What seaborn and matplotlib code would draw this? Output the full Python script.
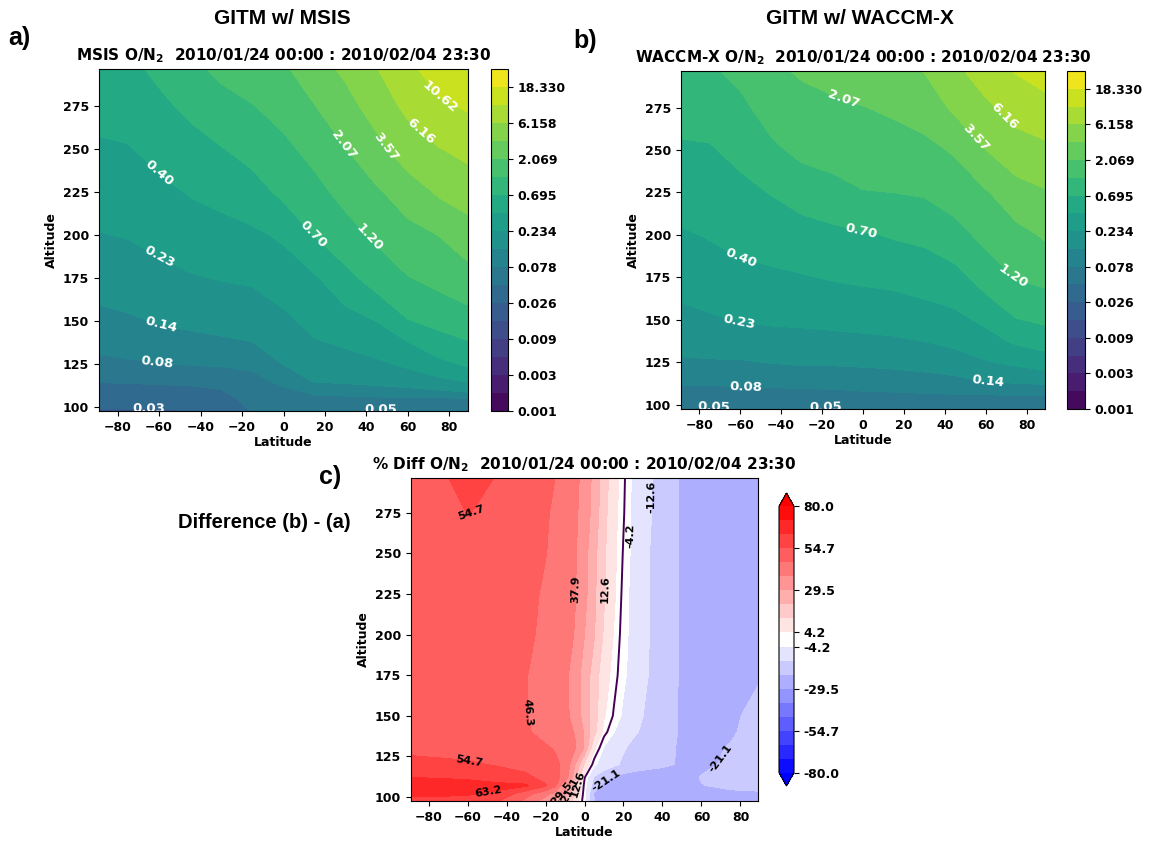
import numpy as np
import matplotlib
matplotlib.use("Agg")
import matplotlib.pyplot as plt
from matplotlib.colors import LogNorm
from matplotlib.ticker import NullLocator
import seaborn as sns

# ---------------------------------------------------------------------------
# Data: zonal-mean O/N2 (log10) for the two GITM runs, on a lat x alt grid
# ---------------------------------------------------------------------------
latitude = [-89, -75, -60, -45, -30, -15, 0, 15, 30, 45, 60, 75, 89]
altitude = [97.5, 105, 115, 125, 137.5, 150, 175, 200, 225, 250, 275, 296.5]

# rows: altitude (bottom -> top), columns: latitude (south -> north)
log_on2_msis = [
    [-1.60, -1.60, -1.60, -1.58, -1.53, -1.33, -1.31, -1.32, -1.355, -1.37, -1.35, -1.27, -1.20],
    [-1.49, -1.49, -1.49, -1.47, -1.44, -1.26, -1.21, -1.18, -1.16, -1.14, -1.12, -1.11, -1.11],
    [-1.33, -1.32, -1.31, -1.30, -1.26, -1.17, -1.06, -0.85, -0.83, -0.80, -0.76, -0.70, -0.61],
    [-1.17, -1.14, -1.11, -1.09, -1.08, -1.06, -0.86, -0.76, -0.72, -0.67, -0.59, -0.46, -0.36],
    [-1.03, -1.01, -0.97, -0.93, -0.90, -0.87, -0.77, -0.65, -0.60, -0.53, -0.40, -0.26, -0.17],
    [-0.93, -0.90, -0.85, -0.82, -0.80, -0.78, -0.68, -0.57, -0.51, -0.39, -0.17, -0.09, -0.03],
    [-0.78, -0.75, -0.70, -0.65, -0.62, -0.60, -0.53, -0.43, -0.23, -0.07, 0.07, 0.14, 0.22],
    [-0.64, -0.62, -0.57, -0.51, -0.48, -0.44, -0.36, -0.15, -0.02, 0.12, 0.23, 0.32, 0.44],
    [-0.53, -0.51, -0.45, -0.38, -0.33, -0.26, -0.11, 0.00, 0.15, 0.28, 0.43, 0.58, 0.65],
    [-0.43, -0.41, -0.33, -0.25, -0.17, -0.08, 0.02, 0.15, 0.31, 0.48, 0.66, 0.78, 0.85],
    [-0.32, -0.30, -0.21, -0.11, -0.01, 0.07, 0.16, 0.31, 0.46, 0.65, 0.84, 0.99, 1.05],
    [-0.24, -0.22, -0.11, 0.02, 0.13, 0.20, 0.28, 0.43, 0.60, 0.78, 0.97, 1.12, 1.19],
]

log_on2_waccmx = [
    [-1.34, -1.37, -1.33, -1.32, -1.34, -1.37, -1.33, -1.31, -1.28, -1.26, -1.24, -1.21, -1.20],
    [-1.21, -1.22, -1.21, -1.20, -1.20, -1.20, -1.17, -1.16, -1.15, -1.14, -1.14, -1.13, -1.13],
    [-1.05, -1.05, -1.04, -1.03, -1.01, -1.00, -0.98, -0.97, -0.94, -0.91, -0.84, -0.81, -0.79],
    [-0.90, -0.89, -0.89, -0.86, -0.84, -0.84, -0.83, -0.81, -0.79, -0.74, -0.65, -0.59, -0.53],
    [-0.79, -0.77, -0.75, -0.72, -0.71, -0.69, -0.68, -0.66, -0.63, -0.58, -0.49, -0.36, -0.30],
    [-0.70, -0.66, -0.62, -0.60, -0.59, -0.58, -0.56, -0.55, -0.51, -0.46, -0.35, -0.17, -0.12],
    [-0.55, -0.51, -0.46, -0.44, -0.41, -0.38, -0.36, -0.34, -0.30, -0.25, -0.07, 0.09, 0.13],
    [-0.42, -0.38, -0.33, -0.29, -0.26, -0.23, -0.18, -0.14, -0.11, -0.01, 0.14, 0.24, 0.34],
    [-0.30, -0.28, -0.22, -0.15, -0.07, 0.00, 0.07, 0.08, 0.10, 0.18, 0.29, 0.45, 0.53],
    [-0.19, -0.18, -0.10, 0.03, 0.13, 0.16, 0.19, 0.21, 0.25, 0.34, 0.55, 0.68, 0.73],
    [-0.08, -0.06, 0.02, 0.17, 0.24, 0.28, 0.31, 0.35, 0.41, 0.59, 0.74, 0.87, 0.94],
    [0.00, 0.04, 0.14, 0.27, 0.34, 0.38, 0.42, 0.50, 0.56, 0.73, 0.90, 1.04, 1.12],
]

# Percent difference (WACCM-X vs MSIS) on its own grid
latitude_diff = [-89, -75, -60, -45, -30, -20, -15, -10, -5, 0, 5, 10, 15, 20, 25, 30, 40, 50, 60, 75, 89]
altitude_diff = [97.5, 102, 107, 112, 120, 130, 140, 150, 175, 200, 225, 250, 275, 296.5]
pct_diff = [
    [61.5, 61.0, 60.0, 56.0, 44.0, 34.0, 28.0, 20.0, 9.0, -3.0, -21.0, -25.0, -26.0, -26.5, -27.0, -27.0, -27.0, -26.0, -24.5, -23.0, -22.5],
    [64.5, 64.5, 64.0, 62.0, 49.7, 41.0, 35.0, 27.0, 14.0, -2.6, -22.0, -25.0, -26.0, -26.5, -27.0, -27.0, -27.0, -26.0, -24.0, -22.5, -22.0],
    [66.0, 66.0, 65.5, 65.0, 64.5, 56.0, 48.0, 31.5, 17.0, -1.5, -17.0, -23.0, -25.0, -26.0, -26.5, -27.0, -27.0, -26.0, -21.3, -19.5, -19.0],
    [63.2, 62.8, 62.3, 60.0, 57.0, 51.5, 48.5, 43.5, 25.0, 0.5, -13.5, -18.3, -22.0, -24.0, -25.0, -25.5, -26.0, -25.5, -20.5, -19.0, -17.5],
    [58.0, 57.0, 56.0, 54.0, 51.0, 48.5, 47.5, 45.0, 30.0, 11.5, -3.0, -8.0, -11.0, -14.0, -16.0, -17.5, -19.5, -22.0, -23.0, -19.5, -16.0],
    [52.0, 51.5, 51.0, 50.0, 48.5, 47.0, 45.9, 43.0, 39.0, 28.4, 5.5, -5.0, -8.5, -12.0, -14.5, -16.0, -19.5, -21.8, -23.0, -20.5, -17.0],
    [51.0, 50.5, 50.0, 49.0, 47.0, 44.5, 43.0, 40.5, 37.5, 28.5, 15.0, 2.0, -4.0, -8.0, -11.5, -13.7, -18.5, -21.8, -23.5, -22.0, -18.0],
    [50.5, 50.0, 49.5, 49.0, 46.5, 44.0, 42.5, 40.0, 35.0, 26.0, 16.5, 5.0, -0.5, -5.5, -9.5, -12.6, -18.0, -22.0, -23.0, -22.0, -19.5],
    [50.5, 50.0, 49.5, 49.0, 46.5, 44.5, 43.0, 40.0, 34.0, 26.0, 17.0, 7.5, 2.0, -3.0, -7.0, -11.0, -17.0, -22.0, -23.5, -23.5, -21.6],
    [50.5, 50.5, 50.0, 49.5, 47.5, 45.0, 44.0, 41.0, 37.5, 29.5, 21.5, 11.5, 3.8, -2.2, -6.5, -10.5, -17.0, -22.0, -23.5, -24.0, -24.5],
    [51.0, 51.0, 51.0, 50.5, 48.0, 45.5, 44.5, 42.5, 38.5, 32.0, 22.5, 13.5, 5.5, -1.5, -6.5, -10.5, -17.0, -22.0, -23.5, -24.5, -25.0],
    [51.0, 51.5, 52.0, 51.5, 49.0, 46.5, 45.0, 43.0, 39.0, 32.5, 23.5, 14.0, 6.0, -0.5, -6.0, -10.5, -16.8, -22.0, -24.0, -25.0, -25.0],
    [51.0, 52.0, 54.9, 53.5, 49.5, 47.0, 45.3, 43.0, 39.5, 34.5, 26.0, 15.5, 6.5, 0.5, -6.0, -9.5, -16.5, -22.0, -24.0, -25.0, -25.0],
    [51.0, 53.5, 57.0, 54.5, 51.0, 48.0, 46.3, 44.0, 40.0, 35.4, 26.7, 16.8, 7.9, 1.0, -5.5, -9.3, -16.4, -22.0, -24.0, -25.0, -25.0],
]

period = "2010/01/24 00:00 : 2010/02/04 23:30"

# Where the inline contour labels sit: {contour level index: [(lat, alt), ...]}
msis_label_spots = {
    6: [(-65, 98.8)], 7: [(47, 97.9)], 8: [(-61, 125.5)], 9: [(-59, 147)],
    10: [(-60, 186.5)], 11: [(-60, 236)], 12: [(14, 200)], 13: [(41, 198)],
    14: [(29, 252)], 15: [(49, 251)], 16: [(65, 259)], 17: [(75, 280)],
}
waccmx_label_spots = {
    7: [(-73, 97.8), (-18, 97.8)], 8: [(-57, 111)], 9: [(61, 113)],
    10: [(-61, 148)], 11: [(-60, 186)], 12: [(-1, 201.5)], 13: [(73, 175)],
    14: [(-9, 281)], 15: [(55, 257)], 16: [(69, 270)],
}
diff_label_spots = {
    17: [(-49, 101.7)], 16: [(-57, 273), (-59, 123)], 15: [(-29, 152)],
    14: [(-4, 228)], 13: [(-10.9, 101.7)], 12: [(-6.9, 103.7)],
    11: [(10.4, 228), (-3, 108)], 9: [(23, 261)], 8: [(34.3, 285)],
    7: [(11.3, 110), (69.4, 124)],
}

# ---------------------------------------------------------------------------
# Style
# ---------------------------------------------------------------------------
sns.set_theme(style="ticks")
plt.rcParams.update({
    "font.family": ["DejaVu Sans"],
    "font.weight": "bold",
    "axes.labelweight": "bold",
    "axes.titleweight": "bold",
    "axes.edgecolor": "black",
    "axes.linewidth": 0.8,
    "axes.labelcolor": "black",
    "text.color": "black",
    "xtick.color": "black",
    "ytick.color": "black",
    "xtick.labelsize": 9,
    "ytick.labelsize": 9,
    "axes.labelsize": 9,
    "axes.titlesize": 11,
    "xtick.major.size": 3.5,
    "ytick.major.size": 3.5,
    "xtick.major.width": 0.8,
    "ytick.major.width": 0.8,
    "axes.titlepad": 6,
})

W, H = 1151, 842
fig = plt.figure(figsize=(W / 100, H / 100), dpi=100)


def box(left, top, right, bottom):
    """Axes rectangle from pixel edges (origin top-left)."""
    return [left / W, 1 - bottom / H, (right - left) / W, (bottom - top) / H]


def place_labels(ax, x, y, z, levels, spots, fmt, color, size):
    """Inline labels on invisible single-level contours, near the given spots."""
    for idx, points in spots.items():
        cs = ax.contour(x, y, z, levels=[levels[idx]], colors=[color], linewidths=0)
        if len(cs.get_paths()[0].vertices) == 0:
            continue
        ax.clabel(cs, manual=points, fmt=fmt, colors=[color], fontsize=size, inline=True)


lat = np.array(latitude, dtype=float)
alt = np.array(altitude, dtype=float)
on2_levels = np.logspace(-3, 1.5, 20)
viridis = sns.color_palette("viridis", as_cmap=True)


def on2_panel(ax_rect, cax_rect, log_field, name, spots):
    ax = fig.add_axes(box(*ax_rect))
    cax = fig.add_axes(box(*cax_rect))
    field = 10.0 ** np.array(log_field)
    norm = LogNorm(vmin=on2_levels[0], vmax=on2_levels[-1])
    cf = ax.contourf(lat, alt, field, levels=on2_levels, norm=norm, cmap=viridis)
    place_labels(ax, lat, alt, field, on2_levels, spots, "%.2f", "white", 9.5)
    ax.set_xticks(range(-80, 81, 20))
    ax.set_yticks(range(100, 276, 25))
    ax.set_xlabel("Latitude", labelpad=2)
    ax.set_ylabel("Altitude")
    ax.set_title(name + r" O/N$_\mathbf{2}$  " + period)
    cb = fig.colorbar(cf, cax=cax)
    ticks = on2_levels[::2]
    cb.set_ticks(ticks)
    cb.set_ticklabels(["%.3f" % t for t in ticks])
    cb.ax.yaxis.set_minor_locator(NullLocator())
    cb.ax.tick_params(labelsize=9)
    return ax


on2_panel((99, 69, 468, 411), (491, 69, 508, 411), log_on2_msis, "MSIS", msis_label_spots)
on2_panel((681, 71, 1045, 409), (1067, 71, 1085, 409), log_on2_waccmx, "WACCM-X",
          waccmx_label_spots)

# Percent difference panel
latd = np.array(latitude_diff, dtype=float)
altd = np.array(altitude_diff, dtype=float)
diff = np.array(pct_diff)
diff_levels = np.linspace(-80, 80, 20)
bwr = sns.color_palette("bwr", as_cmap=True)

axc = fig.add_axes(box(411, 478, 758, 801))
caxc = fig.add_axes(box(779, 493, 794, 786))
cfc = axc.contourf(latd, altd, diff, levels=diff_levels, cmap=bwr, extend="both")
place_labels(axc, latd, altd, diff, diff_levels, diff_label_spots, "%.1f", "black", 8)
axc.contour(latd, altd, diff, levels=[0.0], colors=["#440154"], linewidths=1.4)
axc.set_xticks(range(-80, 81, 20))
axc.set_yticks(range(100, 276, 25))
axc.set_xlabel("Latitude", labelpad=2)
axc.set_ylabel("Altitude")
axc.set_title(r"% Diff O/N$_\mathbf{2}$  " + period)
cbc = fig.colorbar(cfc, cax=caxc)
cticks = diff_levels[[0, 3, 6, 9, 10, 13, 16, 19]]
cbc.set_ticks(cticks)
cbc.set_ticklabels(["%.1f" % t for t in cticks])
cbc.ax.tick_params(labelsize=9)

# Panel headings
head = dict(family="Liberation Sans", fontweight="bold", ha="center", va="center")
fig.text(282 / W, 1 - 18 / H, "GITM w/ MSIS", fontsize=15, **head)
fig.text(860 / W, 1 - 18 / H, "GITM w/ WACCM-X", fontsize=15, **head)
fig.text(19 / W, 1 - 38 / H, "a)", fontsize=18, **head)
fig.text(585 / W, 1 - 41 / H, "b)", fontsize=18, **head)
fig.text(330 / W, 1 - 477 / H, "c)", fontsize=18, **head)
fig.text(264 / W, 1 - 523 / H, "Difference (b) - (a)", fontsize=14.5, **head)

fig.savefig("out.png", dpi=100)
